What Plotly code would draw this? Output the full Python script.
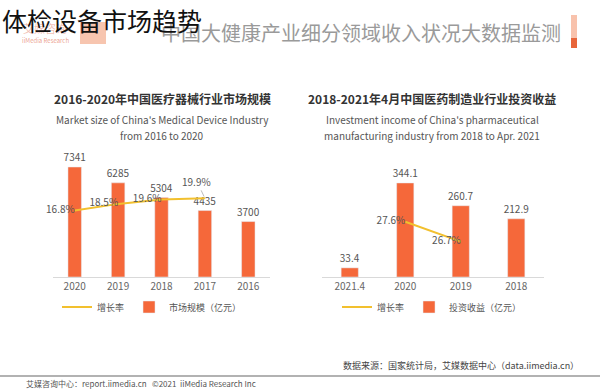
import plotly.graph_objects as go

# ---- data ----
left_years = ["2016", "2017", "2018", "2019", "2020"]
left_size = [3700, 4435, 5304, 6285, 7341]
left_growth_years = ["2017", "2018", "2019", "2020"]
left_growth = [19.9, 19.6, 18.5, 16.8]

right_years = ["2018", "2019", "2020", "2021.4"]
right_income = [212.9, 260.7, 344.1, 33.4]
right_growth_years = ["2019", "2020"]
right_growth = [26.7, 27.6]

BAR = "#F5683A"
LINE = "#F2C02E"
FONT = "Noto Sans CJK SC"
W, H = 600, 390


def px(x):
    return x / W


def py(y):
    return 1 - y / H


left_order = left_years[::-1]
right_order = right_years[::-1]

fig = go.Figure()

# left chart
fig.add_trace(go.Bar(
    x=left_years, y=left_size, name="市场规模（亿元）",
    marker_color=BAR, text=[str(v) for v in left_size], textposition="outside",
    textfont=dict(size=10, color="#555"), cliponaxis=False, constraintext="none",
    xaxis="x", yaxis="y", legend="legend", legendrank=2,
))
left_labels = [f"{v}%" for v in left_growth]
fig.add_trace(go.Scatter(
    x=left_growth_years, y=left_growth, name="增长率", mode="lines+text",
    line=dict(color=LINE, width=2),
    text=[""] + left_labels[1:],
    textposition="middle left",
    textfont=dict(size=10, color="#555"), cliponaxis=False,
    xaxis="x", yaxis="y2", legend="legend", legendrank=1,
))

# right chart
fig.add_trace(go.Bar(
    x=right_years, y=right_income, name="投资收益（亿元）",
    marker_color=BAR, text=[str(v) for v in right_income], textposition="outside",
    textfont=dict(size=10, color="#555"), cliponaxis=False, constraintext="none",
    xaxis="x2", yaxis="y3", legend="legend2", legendrank=2,
))
fig.add_trace(go.Scatter(
    x=right_growth_years, y=right_growth, name="增长率", mode="lines+text",
    line=dict(color=LINE, width=2),
    text=[f"{v}%" for v in right_growth],
    textposition="middle left",
    textfont=dict(size=10, color="#555"), cliponaxis=False,
    xaxis="x2", yaxis="y4", legend="legend2", legendrank=1,
))

ydom = [py(277), py(160)]
xaxis_common = dict(type="category", showline=True, linecolor="#D9D9D9", linewidth=1,
                    ticks="", showgrid=False, zeroline=False,
                    tickfont=dict(size=10, color="#666"))
yaxis_common = dict(visible=False, showgrid=False, zeroline=False, fixedrange=True)

fig.update_layout(
    width=W, height=H,
    margin=dict(l=0, r=0, t=0, b=0),
    paper_bgcolor="white", plot_bgcolor="white",
    font=dict(family=FONT, color="#555"),
    bargap=0.69,
    xaxis=dict(domain=[px(53), px(270)], categoryorder="array",
               categoryarray=left_order, anchor="y", **xaxis_common),
    yaxis=dict(domain=ydom, range=[0, 7810], anchor="x", **yaxis_common),
    yaxis2=dict(overlaying="y", range=[0, 29.6], anchor="x", **yaxis_common),
    xaxis2=dict(domain=[px(322), px(544)], categoryorder="array",
                categoryarray=right_order, anchor="y3", **xaxis_common),
    yaxis3=dict(domain=ydom, range=[0, 428], anchor="x2", **yaxis_common),
    yaxis4=dict(overlaying="y3", range=[25.1, 30.4], anchor="x2", **yaxis_common),
    legend=dict(orientation="h", x=px(152), y=py(307), xanchor="center", yanchor="middle",
                font=dict(size=9, color="#555"), itemwidth=30, bgcolor="rgba(0,0,0,0)"),
    legend2=dict(orientation="h", x=px(432), y=py(307), xanchor="center", yanchor="middle",
                 font=dict(size=9, color="#555"), itemwidth=30, bgcolor="rgba(0,0,0,0)"),
)

ann = []


def text(x, y, s, size, color, xanchor="center", bold=False):
    ann.append(dict(x=px(x), y=py(y), xref="paper", yref="paper", text=(f"<b>{s}</b>" if bold else s),
                    showarrow=False, xanchor=xanchor, yanchor="middle",
                    font=dict(size=size, color=color, family=FONT)))


# leader-line label for the 2017 growth point (category index on the x axis)
ann.append(dict(x=left_order.index(left_growth_years[0]), y=left_growth[0], xref="x", yref="y2",
                text=left_labels[0], showarrow=True, arrowhead=0, arrowwidth=0.8,
                arrowcolor="#AAA", ax=-8, ay=-17, standoff=2,
                font=dict(size=10, color="#555", family=FONT)))

# logo (faded, behind title)
text(45, 28, "艾媒咨询", 11, "rgba(220,90,60,0.4)")
text(45, 41, "iiMedia Research", 6, "rgba(220,90,60,0.6)")

# header
text(563, 32, "中国大健康产业细分领域收入状况大数据监测", 20, "#9A9A9A", xanchor="right")
# overlay title
text(0, 20, "体检设备市场趋势", 25, "#111", xanchor="left")

# chart titles
text(162, 98, "2016-2020年中国医疗器械行业市场规模", 12, "#333", bold=True)
text(162, 119, "Market size of China's Medical Device Industry", 10, "#555")
text(162, 135, "from 2016 to 2020", 10, "#555")
text(432, 98, "2018-2021年4月中国医药制造业行业投资收益", 12, "#333", bold=True)
text(432, 119, "Investment income of China's pharmaceutical", 10, "#555")
text(432, 135, "manufacturing industry from 2018 to Apr. 2021", 10, "#555")

# footer
text(581, 365, "数据来源：国家统计局，艾媒数据中心（data.iimedia.cn）", 9, "#444", xanchor="right")
text(258, 383, "艾媒咨询中心：report.iimedia.cn   ©2021  iiMedia Research Inc", 8, "#555", xanchor="right")

fig.update_layout(annotations=ann)

fig.update_layout(shapes=[
    dict(type="rect", xref="paper", yref="paper", x0=px(80), x1=px(106), y0=py(44), y1=py(22),
         fillcolor="rgba(240,150,110,0.55)", line_width=0, layer="below"),
    dict(type="rect", xref="paper", yref="paper", x0=px(571), x1=px(577), y0=py(38), y1=py(15),
         fillcolor="#F8C2AC", line_width=0),
    dict(type="rect", xref="paper", yref="paper", x0=px(571), x1=px(577), y0=py(48), y1=py(38),
         fillcolor="#E8653A", line_width=0),
    dict(type="line", xref="paper", yref="paper", x0=0, x1=1, y0=py(376), y1=py(376),
         line=dict(color="#999", width=1.5)),
])

fig.write_html("out.html", config={"displayModeBar": False},
               post_script="document.body.style.margin='0';document.body.style.overflow='hidden';")
